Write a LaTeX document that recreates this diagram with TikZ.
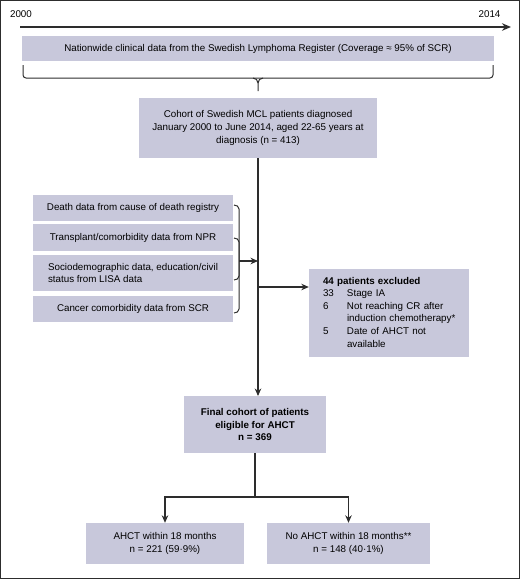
\documentclass[tikz,border=0pt]{standalone}
\usepackage{fontspec}
\setmainfont{Liberation Sans}
\usetikzlibrary{arrows.meta}
\definecolor{boxfill}{RGB}{200,200,219}
\definecolor{linec}{RGB}{45,45,45}
\tikzset{
 box/.style={fill=boxfill, draw=none, inner sep=0pt, align=center, font=\fontsize{9.8}{12.6}\selectfont},
 conn/.style={draw=linec, line width=1.1pt},
 brace/.style={draw=linec, line width=1pt},
 arr/.style={conn, -{Stealth[length=7.5pt,width=6.5pt]}},
 lbl/.style={inner sep=0pt, font=\fontsize{9.8}{12}\selectfont},
}
\begin{document}
\begin{tikzpicture}[x=1pt,y=-1pt]
\useasboundingbox (0,0) rectangle (520,579);
\draw[linec, line width=1.3pt] (0.65,0.65) rectangle (519.35,578.35);

% timeline
\node[lbl] (y2000) at (21,14) {2000};
\node[lbl] (y2014) at (489.5,14) {2014};
\coordinate (tl0) at (20,27);
\coordinate (tl1) at (511,27);
\draw[draw=linec, line width=1.6pt, -{Stealth[length=9pt,width=7.5pt]}] (tl0) -- (tl1);

% top box
\node[box, minimum width=472pt, minimum height=25pt] (reg) at (258,48.5)
 {Nationwide clinical data from the Swedish Lymphoma Register (Coverage ≈ 95\% of SCR)};

% top brace
\coordinate (bl) at (23,65);
\coordinate (br) at (493,65);
\coordinate (btip) at (258,91);
\draw[brace, rounded corners=3pt] (bl) -- (23,78) -- (493,78) -- (br);
\draw[brace] (253,78) to[out=0,in=90] (258,83) -- (btip);
\draw[brace] (263,78) to[out=180,in=90] (258,83);

% cohort
\node[box, minimum width=238pt, minimum height=60pt] (cohort) at (258,128)
 {Cohort of Swedish MCL patients diagnosed\\January 2000 to June 2014, aged 22-65 years at\\diagnosis (n = 413)};

% left boxes
\node[box, minimum width=200pt, minimum height=26pt] (d1) at (133,208) {Death data from cause of death registry};
\node[box, minimum width=200pt, minimum height=27pt] (d2) at (133,237.5) {Transplant/comorbidity data from NPR};
\node[box, minimum width=200pt, minimum height=36pt, align=left] (d3) at (133,273) {Sociodemographic data, education/civil\\status from LISA data};
\node[box, minimum width=200pt, minimum height=26pt] (d4) at (133,309) {Cancer comorbidity data from SCR};

% left braces
\draw[brace] (234,205) to[out=0,in=90] (239,209) -- (239,276) to[out=-90,in=0] (234,280);
\draw[brace] (234,238) to[out=0,in=90] (239,242) -- (239,309) to[out=-90,in=0] (234,313);
\coordinate (ltip) at (239,261);

% exclusion box
\node[box, minimum width=160pt, minimum height=88pt, text width=132pt, align=left] (excl) at (389,313)
 {\begin{tabular}{@{}p{24pt}@{}l@{}}
 \multicolumn{2}{@{}l@{}}{\bfseries 44 patients excluded}\\
 33 & Stage IA\\
 6 & Not reaching CR after\\
   & induction chemotherapy*\\
 5 & Date of AHCT not\\
   & available
 \end{tabular}};

% final
\node[box, minimum width=142pt, minimum height=57pt, font=\fontsize{9.8}{12.6}\selectfont\bfseries] (final) at (255,424.5)
 {Final cohort of patients\\eligible for AHCT\\n = 369};

% bottom boxes
\node[box, minimum width=158pt, minimum height=41pt] (yes) at (165,543.5) {AHCT within 18 months\\n = 221 (59·9\%)};
\node[box, minimum width=163pt, minimum height=41pt] (no) at (348.5,543.5) {No AHCT within 18 months**\\n = 148 (40·1\%)};

% connectors
\coordinate (vtop) at (258,158);
\coordinate (j1) at (258,261);
\coordinate (j2) at (258,287);
\draw[arr] (vtop) -- (258,396);
\draw[arr] (ltip) -- (j1);
\draw[arr] (j2) -- (j2 -| excl.west);
\coordinate (split) at (255,497);
\draw[conn] (final.south) -- (split);
\draw[arr] (split) -| (yes.north);
\draw[arr] (split) -| (no.north);
\end{tikzpicture}
\end{document}
